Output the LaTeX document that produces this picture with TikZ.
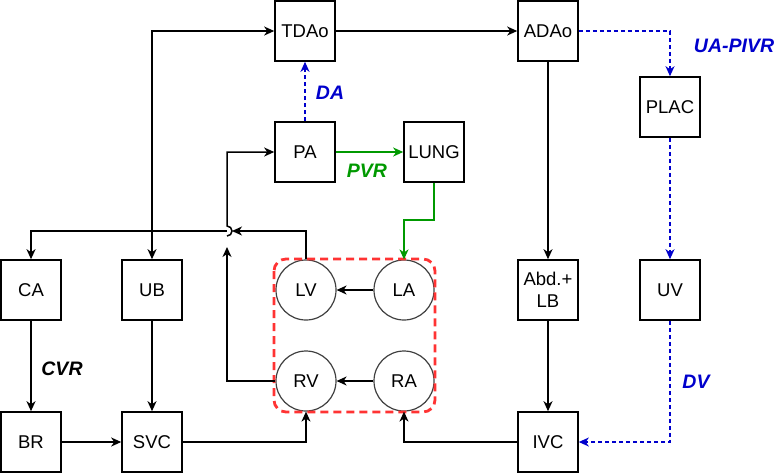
\documentclass[tikz,border=0pt]{standalone}
\usepackage{fontspec}
\setmainfont{Liberation Sans}
\usetikzlibrary{arrows.meta}
\definecolor{shuntblue}{HTML}{0000CC}
\definecolor{lunggreen}{HTML}{009900}
\definecolor{heartred}{HTML}{FF3333}
\tikzset{
    organ/.style={draw, line width=1.6pt, minimum size=60pt, inner sep=0pt, align=center, font=\fontsize{18.5}{22}\selectfont},
    chamber/.style={circle, draw=black!75, line width=1.2pt, minimum size=60pt, inner sep=0pt, font=\fontsize{18.5}{22}\selectfont},
    flow/.style={-{Stealth[length=10pt,width=9pt,inset=3pt]}, line width=1.5pt},
    shunt/.style={flow, shuntblue, line width=1.3pt, dash pattern=on 4pt off 3pt},
    resist/.style={font=\fontsize{19.5}{22}\selectfont\bfseries\itshape},
}
\begin{document}
\begin{tikzpicture}[x=1pt,y=-1pt]
        \useasboundingbox (0,0) rectangle (778,475);
        % organs
            \foreach \n/\x/\y/\t in {TDAo/305/31/TDAo,ADAo/548/31/ADAo,PA/305/152/PA,LUNG/434/152/LUNG,PLAC/670/107/PLAC,CA/31/290/CA,UB/152/290/UB,ABD/548/290/{Abd.+\\LB},UV/670/290/UV,BR/31/442/BR,SVC/152/442/SVC,IVC/548/442/IVC}{
                \node[organ] (\n) at (\x,\y) {\t};
            }
        % heart
            \foreach \n/\x/\y in {LV/306/290,LA/404/290,RV/306/381,RA/404/381}{
                \node[chamber] (\n) at (\x,\y) {\n};
            }
            \draw[heartred, line width=2.8pt, dash pattern=on 8pt off 5pt, rounded corners=12pt] (274,259) rectangle (435,412);
        % flow
            \coordinate (hop) at (227,231);
            \coordinate (split) at (152,231);
            \draw[flow] (TDAo) -- (ADAo);
            \draw[flow] (ADAo) -- (ABD);
            \draw[flow] (ABD) -- (IVC);
            \draw[flow] (IVC) -| (RA);
            \draw[flow] (RA) -- (RV);
            \draw[flow] (LA) -- (LV);
            \draw[flow] (CA) -- (BR);
            \draw[flow] (BR) -- (SVC);
            \draw[flow] (UB) -- (SVC);
            \draw[flow] (SVC) -| (RV);
            \draw[flow] (LV.north) |- ([xshift=5pt]hop);
            \draw[flow] (hop) -| (CA);
            \draw[flow] (split) -- (UB);
            \draw[flow] (split) |- (TDAo);
            \draw[flow] (RV.west) -| ([yshift=-16pt]hop);
            \draw[flow] ([yshift=-5pt]hop) arc[start angle=90, end angle=-90, radius=5] |- (PA.west);
            \draw[flow, lunggreen] (PA) -- (LUNG);
            \draw[flow, lunggreen] (LUNG.south) -- ++(0,37) -| (LA.north);
        % shunts
            \draw[shunt] (PA) -- (TDAo);
            \draw[shunt] (ADAo) -| (PLAC);
            \draw[shunt] (PLAC) -- (UV);
            \draw[shunt] (UV) |- (IVC);
        % labels
            \node[resist, shuntblue] (DAlbl) at (330,93) {DA};
            \node[resist, lunggreen] (PVRlbl) at (367,171) {PVR};
            \node[resist, shuntblue] (UAlbl) at (734,46) {UA-PIVR};
            \node[resist, shuntblue] (DVlbl) at (696,382) {DV};
            \node[resist] (CVRlbl) at (62,369) {CVR};
        \end{tikzpicture}
\end{document}
